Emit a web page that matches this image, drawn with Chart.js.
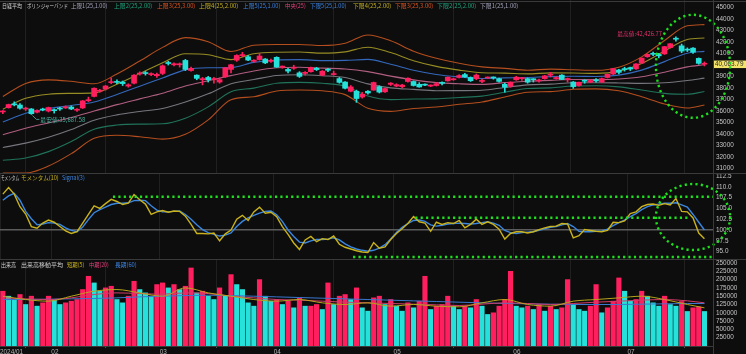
<!DOCTYPE html>
<html>
<head>
<meta charset="utf-8">
<script src="https://cdn.jsdelivr.net/npm/chart.js@4.4.1/dist/chart.umd.min.js"></script>
<style>
  html, body { margin: 0; padding: 0; background: #0d0d0d; }
  #wrap { position: relative; width: 746px; height: 354px; overflow: hidden; background: #0d0d0d; }
  canvas { position: absolute; left: 0; }
  .ln { position: absolute; background: #3a3a3a; }
  .lg { position: absolute; left: 0; font: 6px "Noto Sans CJK JP", sans-serif; white-space: nowrap; line-height: 8px; z-index: 5; }
  .lg span { position: absolute; top: 0; display: inline-block; transform-origin: 0 50%; }
</style>
</head>
<body>
<div id="wrap">
  <canvas id="c-price" width="746" height="173" style="top:0"></canvas>
  <canvas id="c-mom" width="746" height="85" style="top:174px"></canvas>
  <canvas id="c-vol" width="746" height="94" style="top:260px"></canvas>

  <div class="ln" style="left:0;top:1px;width:746px;height:1px"></div>
  <div class="ln" style="left:0;top:173px;width:746px;height:1px"></div>
  <div class="ln" style="left:0;top:259px;width:746px;height:1px"></div>
  <div class="ln" style="left:0;top:346px;width:713px;height:1px"></div>
  <div class="ln" style="left:713px;top:0;width:1px;height:354px"></div>

  <div class="lg" style="top:2px">
    <span data-w="20" style="left:2px;color:#cfcfcf">日経平均</span>
    <span data-w="41" style="left:27px;color:#cfcfcf">ボリンジャーバンド</span>
    <span data-w="36" style="left:71px;color:#a4a4bc">上限1(25,1.00)</span>
    <span data-w="38" style="left:114px;color:#1fa37c">上限2(25,2.00)</span>
    <span data-w="38" style="left:157px;color:#e0541e">上限3(25,3.00)</span>
    <span data-w="39" style="left:199px;color:#c4b020">上限4(25,2.00)</span>
    <span data-w="37" style="left:243px;color:#3b82e0">上限5(25,1.00)</span>
    <span data-w="21" style="left:285px;color:#e0407a">中央(25)</span>
    <span data-w="36" style="left:310px;color:#3b82e0">下限5(25,1.00)</span>
    <span data-w="38" style="left:353px;color:#c4b020">下限4(25,2.00)</span>
    <span data-w="38" style="left:395px;color:#e0541e">下限3(25,3.00)</span>
    <span data-w="39" style="left:437px;color:#1fa37c">下限2(25,2.00)</span>
    <span data-w="38" style="left:480px;color:#a4a4bc">下限1(25,1.00)</span>
  </div>
  <div class="lg" style="top:174px">
    <span data-w="18" style="left:1px;color:#cfcfcf">モメンタム</span>
    <span data-w="38" style="left:21px;color:#c4b020">モメンタム(10)</span>
    <span data-w="23" style="left:62px;color:#3b82e0">Signal(3)</span>
  </div>
  <div class="lg" style="top:261px">
    <span data-w="15" style="left:1px;color:#cfcfcf">出来高</span>
    <span data-w="42" style="left:21px;color:#cfcfcf">出来高移動平均</span>
    <span data-w="17" style="left:67px;color:#c4b020">短期(5)</span>
    <span data-w="20" style="left:89px;color:#e0407a">中期(20)</span>
    <span data-w="22" style="left:115px;color:#3b82e0">長期(60)</span>
  </div>
</div>

<script>
// 日経平均 2024/01/19 - 2024/07/19 (日足)
const monthStart = [0, 9, 28, 48, 69, 90, 110];
const monthLabels = ['2024/01', '02', '03', '04', '05', '06', '07'];

const opens = [
  35900, 36270, 36600, 36500, 36150, 36160, 35880, 36150, 35980,
  36100, 36180, 36250, 36330, 36050, 36250, 36880, 37250, 37700, 37900, 38450, 38500, 38500, 38150, 38400, 39200, 39250, 39150, 39050,
  39250, 40200, 40000, 40000, 40380, 39500, 39100, 38700, 38900, 38700, 38500, 38950, 39600, 40400, 40800, 40700, 40300, 40450, 40500, 40300,
  40650, 39800, 39600, 39700, 39300, 39250, 39400, 39700, 39100, 39600, 39150, 38800, 38500, 37700, 37700, 37200, 37700, 37800, 38100, 37650, 38300,
  38150, 38100, 38550, 38550, 38300, 38250, 38150, 38200, 38450, 38600, 38700, 38900, 39150, 38900, 38800, 38550, 38850, 38900, 38800, 38300, 38150,
  38700, 38800, 38800, 38750, 38600, 38800, 39100, 38800, 39100, 38700, 38500, 38200, 38650, 38500, 38700, 38500, 38900, 39200, 39550, 39650,
  39750, 39650, 40150, 40700, 41000, 40900, 40950, 41500, 42300, 41650, 41280, 41450, 40560, 40050
];
const highs = [
  36030, 36580, 36780, 36620, 36320, 36200, 36080, 36230, 36320,
  36170, 36300, 36430, 36420, 36190, 36900, 37190, 37990, 37870, 38200, 38860, 38700, 38590, 38350, 39150, 39390, 39420, 39300, 39270,
  39990, 40300, 40180, 40160, 40470, 39800, 39130, 38900, 39000, 38900, 38850, 39780, 40050, 40880, 41080, 40800, 40450, 40980, 40550, 40500,
  40700, 39900, 39700, 39960, 39400, 39400, 39800, 39780, 39500, 39700, 39450, 38900, 38550, 38200, 37800, 37600, 37750, 38500, 38180, 37980, 38450,
  38350, 38300, 38860, 38600, 38450, 38340, 38260, 38450, 38510, 38950, 38850, 39140, 39250, 38950, 39200, 38750, 38950, 38950, 38850, 38400, 38520,
  39000, 38900, 38850, 38800, 38750, 39080, 39350, 38950, 39150, 38850, 38550, 38500, 38700, 38700, 38800, 38850, 39200, 39700, 39600, 39790,
  39800, 40100, 40600, 40950, 41100, 41000, 41600, 41850, 42426.77, 41800, 41470, 41500, 40600, 40250
];
const lows = [
  35760, 36230, 36430, 36150, 36020, 35687.58, 35820, 36000, 35900,
  35800, 36030, 36200, 36100, 35950, 36200, 36800, 37200, 37600, 37800, 38350, 38350, 38200, 38050, 38330, 39100, 39100, 39050, 38900,
  39150, 39980, 39900, 39800, 39500, 39450, 38700, 38250, 38500, 38400, 38400, 38900, 39300, 40300, 40700, 40350, 40200, 40400, 40100, 40200,
  39780, 39700, 39300, 39600, 38900, 39100, 39350, 39500, 39050, 39400, 39100, 38400, 37900, 37650, 36733, 37100, 37450, 37780, 37550, 37600, 38200,
  38100, 38000, 38500, 38150, 38050, 38180, 38100, 38150, 38250, 38580, 38650, 38850, 38900, 38550, 38700, 38450, 38800, 38750, 38500, 37617, 38050,
  38650, 38650, 38400, 38500, 38500, 38750, 38950, 38750, 38700, 38500, 37950, 38150, 38400, 38450, 38500, 38450, 38850, 39150, 39200, 39450,
  39500, 39600, 40100, 40650, 40800, 40600, 40900, 41450, 42050, 41050, 41150, 41000, 40050, 39900
];
const closes = [
  35963, 36546, 36517, 36226, 36236, 35751, 36026, 36065, 36286,
  36011, 36158, 36354, 36160, 36119, 36863, 36897, 37963, 37703, 38157, 38487, 38470, 38363, 38262, 39098, 39233, 39239, 39208, 39166,
  39910, 40109, 40097, 40090, 39598, 39688, 38820, 38797, 38695, 38807, 38707, 39740, 40003, 40815, 40888, 40414, 40398, 40762, 40168, 40369,
  39803, 39838, 39451, 39773, 38992, 39347, 39773, 39581, 39442, 39523, 39232, 38471, 37961, 38079, 37068, 37438, 37552, 38460, 37628, 37934, 38405,
  38274, 38236, 38835, 38202, 38073, 38229, 38179, 38356, 38385, 38920, 38787, 39069, 38946, 38617, 39103, 38646, 38900, 38855, 38556, 38054, 38487,
  38923, 38837, 38490, 38703, 38683, 39038, 39134, 38876, 38720, 38814, 38102, 38482, 38570, 38633, 38596, 38804, 39173, 39667, 39341, 39583,
  39631, 40074, 40580, 40913, 40912, 40780, 41580, 41831, 42224, 41190, 41275, 41097, 40126, 40063.79
];

// ボリンジャーバンド (4日ごとに読み取り)
const bbIdx = [0, 4, 8, 12, 16, 20, 24, 28, 32, 36, 40, 44, 48, 52, 56, 60, 64, 68, 72, 76, 80, 84, 88, 92, 96, 100, 104, 108, 112, 116, 120, 123];
const bbUpper3 = [37243, 38381, 38693, 38564, 38350, 39205, 40331, 41515, 42363, 42008, 41153, 41707, 41765, 41766, 41674, 41870, 42595, 42087, 41186, 40572, 40134, 39823, 39693, 39532, 39628, 39569, 39521, 39790, 40691, 42116, 43393, 43493];
const bbUpper2 = [36134, 37083, 37444, 37516, 37560, 38316, 39233, 40186, 40962, 40875, 40454, 40960, 41091, 41107, 41018, 41126, 41532, 41064, 40355, 39865, 39539, 39314, 39278, 39213, 39301, 39286, 39252, 39448, 40114, 41196, 42202, 42329];
const bbUpper1 = [35025, 35785, 36196, 36468, 36769, 37426, 38135, 38857, 39561, 39742, 39756, 40212, 40416, 40449, 40363, 40382, 40469, 40041, 39523, 39158, 38945, 38805, 38863, 38894, 38974, 39003, 38983, 39106, 39537, 40276, 41011, 41166];
const bbMid = [33916, 34487, 34947, 35420, 35978, 36537, 37037, 37528, 38161, 38608, 39057, 39465, 39741, 39790, 39707, 39639, 39406, 39018, 38692, 38451, 38350, 38296, 38448, 38575, 38647, 38720, 38714, 38764, 38960, 39356, 39820, 40002];
const bbLower1 = [32806, 33189, 33698, 34371, 35187, 35648, 35939, 36199, 36760, 37475, 38358, 38718, 39067, 39131, 39052, 38895, 38343, 37996, 37861, 37744, 37755, 37786, 38033, 38256, 38321, 38438, 38445, 38422, 38383, 38436, 38629, 38839];
const bbLower2 = [31697, 31891, 32450, 33323, 34396, 34759, 34841, 34870, 35359, 36342, 37660, 37970, 38392, 38472, 38396, 38151, 37280, 36973, 37030, 37037, 37161, 37277, 37618, 37937, 37994, 38155, 38176, 38079, 37806, 37516, 37438, 37675];
const bbLower3 = [30588, 30593, 31201, 32275, 33605, 33870, 33743, 33541, 33958, 35208, 36961, 37223, 37717, 37813, 37741, 37407, 36217, 35950, 36199, 36330, 36566, 36768, 37203, 37618, 37667, 37872, 37907, 37737, 37229, 36596, 36247, 36511];

// モメンタム(10) と Signal(3)
const momentum = [
  108.3, 109.8, 108.3, 105.4, 103.7, 100.8, 100.4, 101.6, 102.3, 101.8,
  100.8, 99.8, 99.2, 99.6, 101.6, 103.6, 105.6, 105.0, 106.1, 107.1,
  106.6, 105.9, 106.2, 108.2, 107.0, 106.0, 103.6, 104.2, 104.5, 104.1,
  104.4, 104.3, 103.2, 101.3, 99.2, 99.2, 99.1, 99.3, 97.5, 99.1,
  100.0, 102.5, 103.4, 102.2, 104.2, 105.3, 103.9, 104.1, 103.1, 100.8,
  99.0, 97.0, 95.5, 97.7, 98.5, 97.3, 98.0, 97.8, 98.6, 96.7,
  96.0, 95.6, 95.2, 94.9, 94.8, 97.1, 95.8, 96.1, 97.8, 99.2,
  100.3, 101.5, 103.1, 101.9, 101.6, 99.7, 101.8, 101.3, 101.7, 101.5,
  102.2, 100.5, 101.3, 102.5, 101.3, 101.9, 101.3, 100.2, 97.9, 99.2,
  99.6, 99.6, 99.3, 99.6, 100.1, 100.5, 100.8, 100.9, 101.5, 101.4,
  98.2, 98.7, 100.1, 99.9, 99.7, 99.6, 99.9, 101.8, 101.7, 102.1,
  103.8, 104.2, 105.4, 105.9, 106.0, 105.7, 106.1, 105.8, 107.3, 104.3,
  104.2, 102.8, 99.3, 98.0
];
const signal = [
  106.9, 107.9, 108.5, 106.9, 104.3, 102.6, 101.2, 101.4, 101.7, 101.6,
  101.3, 100.5, 99.9, 99.6, 100.7, 102.4, 104.0, 104.7, 105.3, 105.9,
  106.2, 106.2, 106.3, 106.8, 106.9, 106.8, 105.6, 104.6, 104.2, 104.2,
  104.3, 104.4, 103.6, 102.5, 101.2, 100.1, 99.4, 99.0, 98.6, 98.8,
  99.3, 100.8, 102.0, 102.8, 103.4, 103.9, 104.3, 104.4, 103.5, 102.0,
  100.0, 98.5, 97.2, 97.0, 97.5, 97.8, 97.8, 97.9, 98.2, 97.7,
  96.8, 96.1, 95.6, 95.3, 95.1, 95.3, 95.8, 96.6, 97.9, 99.4,
  100.6, 101.5, 102.2, 102.3, 102.0, 101.2, 100.9, 101.1, 101.4, 101.5,
  101.6, 101.5, 101.4, 101.5, 101.7, 101.9, 101.6, 101.1, 99.9, 99.4,
  99.2, 99.4, 99.5, 99.6, 99.9, 100.3, 100.6, 100.8, 101.2, 101.5,
  100.8, 99.7, 99.6, 99.6, 99.7, 99.8, 100.2, 101.0, 101.7, 102.3,
  103.1, 103.8, 104.7, 105.4, 105.8, 106.0, 106.2, 106.2, 106.3, 105.8,
  105.3, 103.6, 101.8, 100.0
];

// 出来高
const volumes = [
  165000, 150000, 140000, 155000, 125000, 150000, 120000, 130000, 150000,
  140000, 125000, 130000, 135000, 140000, 170000, 210000, 190000, 165000, 175000, 180000, 140000, 130000, 150000, 195000, 170000, 160000, 150000, 185000,
  190000, 175000, 185000, 170000, 180000, 235000, 160000, 165000, 150000, 140000, 175000, 150000, 215000, 185000, 170000, 130000, 120000, 200000, 150000, 135000,
  140000, 125000, 135000, 115000, 145000, 120000, 120000, 125000, 110000, 190000, 125000, 150000, 155000, 140000, 175000, 115000, 105000, 145000, 150000, 125000, 140000,
  120000, 105000, 130000, 115000, 135000, 210000, 110000, 120000, 125000, 150000, 120000, 110000, 120000, 115000, 140000, 120000, 95000, 100000, 120000, 140000, 225000,
  120000, 115000, 120000, 110000, 125000, 105000, 120000, 110000, 115000, 200000, 125000, 110000, 105000, 120000, 185000, 100000, 115000, 135000, 205000, 165000,
  135000, 140000, 165000, 150000, 130000, 120000, 150000, 125000, 120000, 134000, 104000, 115000, 118000, 104000
];
const volMa5 = [150000, 140000, 135000, 150000, 165000, 170000, 160000, 150000, 175000, 160000, 150000, 140000, 135000, 140000, 130000, 125000, 130000, 120000, 125000, 120000, 118000, 130000, 140000, 125000, 120000, 135000, 140000, 145000, 150000, 140000, 125000, 115000];
const volMa20 = [145000, 142000, 140000, 145000, 155000, 160000, 158000, 156000, 160000, 158000, 150000, 145000, 140000, 138000, 135000, 132000, 130000, 128000, 126000, 124000, 122000, 126000, 130000, 128000, 125000, 128000, 132000, 135000, 138000, 140000, 136000, 130000];
const volMa60 = [140000, 140000, 141000, 142000, 143000, 145000, 148000, 150000, 152000, 153000, 152000, 150000, 148000, 146000, 144000, 142000, 140000, 138000, 136000, 134000, 132000, 130000, 128000, 127000, 126000, 125000, 125000, 125000, 126000, 127000, 128000, 128000];

const priceTicks = [31000, 32000, 33000, 34000, 35000, 36000, 37000, 38000, 39000, 40000, 41000, 42000, 43000, 44000, 45000];
const momTicks = [95, 97.5, 100, 102.5, 105, 107.5, 110, 112.5];
const volTicks = [25000, 50000, 75000, 100000, 125000, 150000, 175000, 200000, 225000, 250000];

// 注記 (緑の点線)
const momLevels = [
  { value: 107.7, from: 19.3, to: 124.5 },
  { value: 102.85, from: 72.3, to: 120.5 },
  { value: 93.75, from: 61.4, to: 124.5 }
];

// 凡例の幅を参照に合わせる
document.querySelectorAll('.lg span').forEach(s => {
  const w = parseFloat(s.dataset.w);
  s.style.transform = 'scaleX(' + (w / s.offsetWidth).toFixed(3) + ')';
});

const UP = '#ff1f5e';
const DOWN = '#26e0da';
const AXIS_W = 33;
const tickFont = { size: 6.4, family: '"Liberation Sans", sans-serif' };
const X_MIN = -0.5, X_MAX = 124.5;

function xAxis(showLabels) {
  return {
    type: 'linear', min: X_MIN, max: X_MAX, offset: false,
    afterBuildTicks: s => { s.ticks = monthStart.map(i => ({ value: i - 0.5 })); },
    afterFit: s => { s.height = showLabels ? 8 : 0; s.paddingLeft = 0; s.paddingRight = 0; },
    grid: { color: '#202020', lineWidth: 1, drawTicks: showLabels, tickLength: 2, tickColor: '#555' },
    border: { display: false },
    ticks: {
      display: showLabels, align: 'start', maxRotation: 0, autoSkip: false, padding: 0,
      color: '#b4b4b4', font: tickFont,
      callback: (v, i) => monthLabels[i]
    }
  };
}

function yAxis(min, max, ticks, fmt, gridColor) {
  return {
    position: 'right', min, max,
    afterBuildTicks: s => { s.ticks = ticks.map(v => ({ value: v })); },
    afterFit: s => { s.width = AXIS_W; s.paddingTop = 0; s.paddingBottom = 0; },
    grid: { color: gridColor || 'rgba(0,0,0,0)', drawTicks: false, lineWidth: c => (c.tick && c.tick.value === 100 ? 1.5 : 1) },
    border: { display: false },
    ticks: { color: '#c4c4c4', font: tickFont, padding: 3, crossAlign: 'near', autoSkip: false, callback: fmt }
  };
}

const baseOpts = {
  responsive: false, animation: false, devicePixelRatio: 1, events: [],
  layout: { padding: 0 },
  plugins: { legend: { display: false }, tooltip: { enabled: false } }
};

function lineSet(xs, ys, color, width, order) {
  return {
    type: 'line', data: xs.map((x, k) => ({ x, y: ys[k] })), borderColor: color, borderWidth: width,
    pointRadius: 0, cubicInterpolationMode: 'monotone', order
  };
}

function dottedEllipse(ctx, cx, cy, rx, ry) {
  ctx.save();
  ctx.strokeStyle = '#1fe01f';
  ctx.lineWidth = 2.4;
  ctx.setLineDash([2.2, 3.2]);
  ctx.beginPath();
  ctx.ellipse(cx, cy, rx, ry, 0, 0, Math.PI * 2);
  ctx.stroke();
  ctx.restore();
}

const idx = closes.map((_, i) => i);
const candleColor = idx.map(i => (closes[i] >= opens[i] ? UP : DOWN));

// 価格パネル注記
const priceNotes = {
  id: 'priceNotes',
  afterDraw(chart) {
    const { ctx, scales: { x, y }, chartArea } = chart;
    const hi = Math.max(...highs), hiI = highs.indexOf(hi);
    const lo = Math.min(...lows), loI = lows.indexOf(lo);
    ctx.save();
    ctx.font = '5.8px "Noto Sans CJK JP", sans-serif';
    ctx.textBaseline = 'middle';
    ctx.fillStyle = '#e8306a';
    ctx.textAlign = 'right';
    ctx.fillText('最高値:' + hi.toLocaleString('en-US', { minimumFractionDigits: 2 }), x.getPixelForValue(hiI) - 14, y.getPixelForValue(hi) - 3);
    const lx = x.getPixelForValue(loI), ly = y.getPixelForValue(lo);
    ctx.strokeStyle = '#4fb3a4';
    ctx.lineWidth = 0.8;
    ctx.beginPath();
    ctx.moveTo(lx + 1, ly + 1);
    ctx.lineTo(lx + 5, ly + 5);
    ctx.lineTo(lx + 8, ly + 5);
    ctx.stroke();
    ctx.fillStyle = '#4fb3a4';
    ctx.textAlign = 'left';
    ctx.fillText('最安値:' + lo.toLocaleString('en-US', { minimumFractionDigits: 2 }), lx + 9, ly + 5);
    // 現在値ラベル
    const last = closes[closes.length - 1];
    const py = y.getPixelForValue(last);
    ctx.fillStyle = '#f3e36a';
    ctx.fillRect(chartArea.right, py - 3.5, AXIS_W, 7.5);
    ctx.fillStyle = '#2a2a2a';
    ctx.font = '6.4px "Liberation Sans", sans-serif';
    ctx.fillText(last.toLocaleString('en-US', { minimumFractionDigits: 2 }), chartArea.right + 2, py + 0.3);
    ctx.restore();
    dottedEllipse(ctx, x.getPixelForValue(121), y.getPixelForValue(39870), 6.5 * (x.getPixelForValue(1) - x.getPixelForValue(0)), 51.5);
  }
};

new Chart(document.getElementById('c-price'), {
  type: 'bar',
  data: {
    datasets: [
      { type: 'bar', data: idx.map(i => ({ x: i, y: [opens[i], closes[i]] })), backgroundColor: candleColor, barThickness: 5, grouped: false, minBarLength: 1, order: 0 },
      { type: 'bar', data: idx.map(i => ({ x: i, y: [lows[i], highs[i]] })), backgroundColor: candleColor, barThickness: 1, grouped: false, order: 1 },
      lineSet(bbIdx, bbUpper3, '#b44e1e', 1.1, 2),
      lineSet(bbIdx, bbUpper2, '#968c24', 1.1, 2),
      lineSet(bbIdx, bbUpper1, '#3468bc', 1.1, 2),
      lineSet(bbIdx, bbMid, '#b05e80', 1.1, 2),
      lineSet(bbIdx, bbLower1, '#76767e', 1.1, 2),
      lineSet(bbIdx, bbLower2, '#20735a', 1.1, 2),
      lineSet(bbIdx, bbLower3, '#b44e1e', 1.1, 2)
    ]
  },
  options: Object.assign({}, baseOpts, {
    scales: {
      x: xAxis(false),
      y: yAxis(30592, 45635, priceTicks, v => String(v))
    }
  }),
  plugins: [priceNotes]
});

// モメンタムパネル注記
const momNotes = {
  id: 'momNotes',
  afterDraw(chart) {
    const { ctx, scales: { x, y } } = chart;
    ctx.save();
    ctx.strokeStyle = '#1fe01f';
    ctx.lineWidth = 2.4;
    ctx.setLineDash([2.2, 3.2]);
    momLevels.forEach(l => {
      const py = y.getPixelForValue(l.value);
      ctx.beginPath();
      ctx.moveTo(x.getPixelForValue(l.from), py);
      ctx.lineTo(x.getPixelForValue(l.to), py);
      ctx.stroke();
    });
    ctx.restore();
    dottedEllipse(ctx, x.getPixelForValue(121), y.getPixelForValue(103.0), 6.5 * (x.getPixelForValue(1) - x.getPixelForValue(0)), 33);
  }
};

new Chart(document.getElementById('c-mom'), {
  type: 'line',
  data: {
    datasets: [
      { data: idx.map(i => ({ x: i, y: signal[i] })), borderColor: '#3a86e0', borderWidth: 1.4, pointRadius: 0, order: 1 },
      { data: idx.map(i => ({ x: i, y: momentum[i] })), borderColor: '#c9b21c', borderWidth: 1.4, pointRadius: 0, order: 0 }
    ]
  },
  options: Object.assign({}, baseOpts, {
    scales: {
      x: xAxis(false),
      y: yAxis(93.29, 112.96, momTicks, v => v.toFixed(1), c => (c.tick && c.tick.value === 100 ? '#5c5c5c' : 'rgba(0,0,0,0)'))
    }
  }),
  plugins: [momNotes]
});

const volColor = idx.map(i => (i === 0 || volumes[i] >= volumes[i - 1] ? UP : DOWN));

new Chart(document.getElementById('c-vol'), {
  type: 'bar',
  data: {
    datasets: [
      { type: 'bar', data: idx.map(i => ({ x: i, y: volumes[i] })), backgroundColor: volColor, barThickness: 4.5, grouped: false, order: 3 },
      lineSet(bbIdx, volMa60, '#3a78d0', 1, 2),
      lineSet(bbIdx, volMa20, '#d23c68', 1, 1),
      lineSet(bbIdx, volMa5, '#b8a41c', 1, 0)
    ]
  },
  options: Object.assign({}, baseOpts, {
    scales: {
      x: xAxis(true),
      y: yAxis(0, 259036, volTicks, v => String(v))
    }
  })
});
</script>
</body>
</html>
